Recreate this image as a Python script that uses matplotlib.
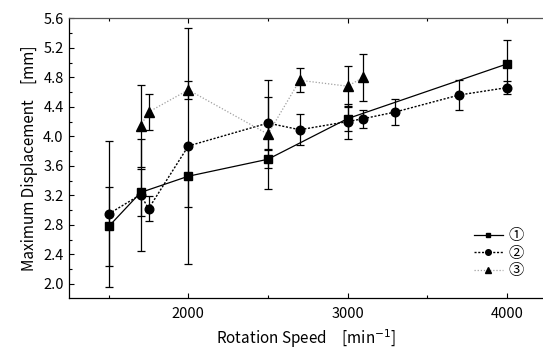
import numpy as np
import matplotlib.pyplot as plt
from matplotlib.ticker import MultipleLocator

plt.rcParams['font.family'] = ['Noto Sans CJK JP', 'DejaVu Sans']

# series 1 (squares)
rpm1 = [1500, 1700, 2000, 2500, 3000, 4000]
disp1 = [2.78, 3.24, 3.46, 3.69, 4.24, 4.98]
err1 = [0.53, 0.32, 0.42, 0.12, 0.17, 0.32]

# series 2 (circles)
rpm2 = [1500, 1700, 1750, 2000, 2500, 2700, 3000, 3100, 3300, 3700, 4000]
disp2 = [2.95, 3.21, 3.02, 3.87, 4.18, 4.09, 4.20, 4.24, 4.33, 4.56, 4.66]
err2 = [0.99, 0.76, 0.17, 1.60, 0.35, 0.21, 0.24, 0.12, 0.17, 0.20, 0.09]

# series 3 (triangles)
rpm3 = [1700, 1750, 2000, 2500, 2700, 3000, 3100]
disp3 = [4.14, 4.33, 4.63, 4.03, 4.76, 4.68, 4.80]
err3 = [0.56, 0.25, 0.12, 0.74, 0.16, 0.28, 0.32]

labels = ['①', '②', '③']

fig = plt.figure(figsize=(5.43, 3.49), dpi=100)
ax = fig.add_axes([0.1276, 0.1453, 0.8724, 0.8023])

ekw = dict(ecolor='black', elinewidth=0.9, capsize=2.8, capthick=0.9)
e1 = ax.errorbar(rpm1, disp1, yerr=err1, fmt='s', ls='-', color='black', lw=0.9,
                 ms=5.5, zorder=3, **ekw)
e2 = ax.errorbar(rpm2, disp2, yerr=err2, fmt='o', ls=(0, (1.5, 1.2)), color='black',
                 lw=1.0, ms=6.2, zorder=3, **ekw)
e3 = ax.errorbar(rpm3, disp3, yerr=err3, fmt='^', ls=(0, (1, 1.5)), color='black',
                 lw=0.9, ms=7, zorder=3, **ekw)
e3[0].set_color('#a0a0a0')
e3[0].set_markerfacecolor('black')
e3[0].set_markeredgecolor('black')

ax.set_xlim(1252, 4228)
ax.set_ylim(1.806, 5.6)
ax.xaxis.set_major_locator(MultipleLocator(1000))
ax.xaxis.set_minor_locator(MultipleLocator(500))
ax.yaxis.set_major_locator(MultipleLocator(0.4))
ax.yaxis.set_minor_locator(MultipleLocator(0.2))
ax.yaxis.set_major_formatter(plt.FuncFormatter(lambda v, p: f'{v:.1f}'))

ax.spines['right'].set_visible(False)
ax.spines['top'].set_color('#555555')
for s in ax.spines.values():
    s.set_linewidth(0.9)
ax.tick_params(which='both', direction='in', top=True, right=False,
               labelsize=10.5, width=0.8)
ax.tick_params(axis='x', pad=6)
ax.tick_params(axis='y', pad=4)
ax.tick_params(which='major', length=3.5)
ax.tick_params(which='minor', length=2)

ax.set_xlabel('Rotation Speed\u3000[min$^{-1}$]', fontsize=11, labelpad=5)
ax.set_ylabel('Maximum Displacement\u3000[mm]', fontsize=11, labelpad=4)

ax.legend(handles=[e1[0], e2[0], e3[0]], labels=labels, loc='lower right',
          bbox_to_anchor=(0.975, 0.04), frameon=False, fontsize=11,
          handlelength=1.9, handletextpad=0.35, labelspacing=0.05,
          markerscale=0.65, borderpad=0)

fig.savefig('out.png', dpi=100)
